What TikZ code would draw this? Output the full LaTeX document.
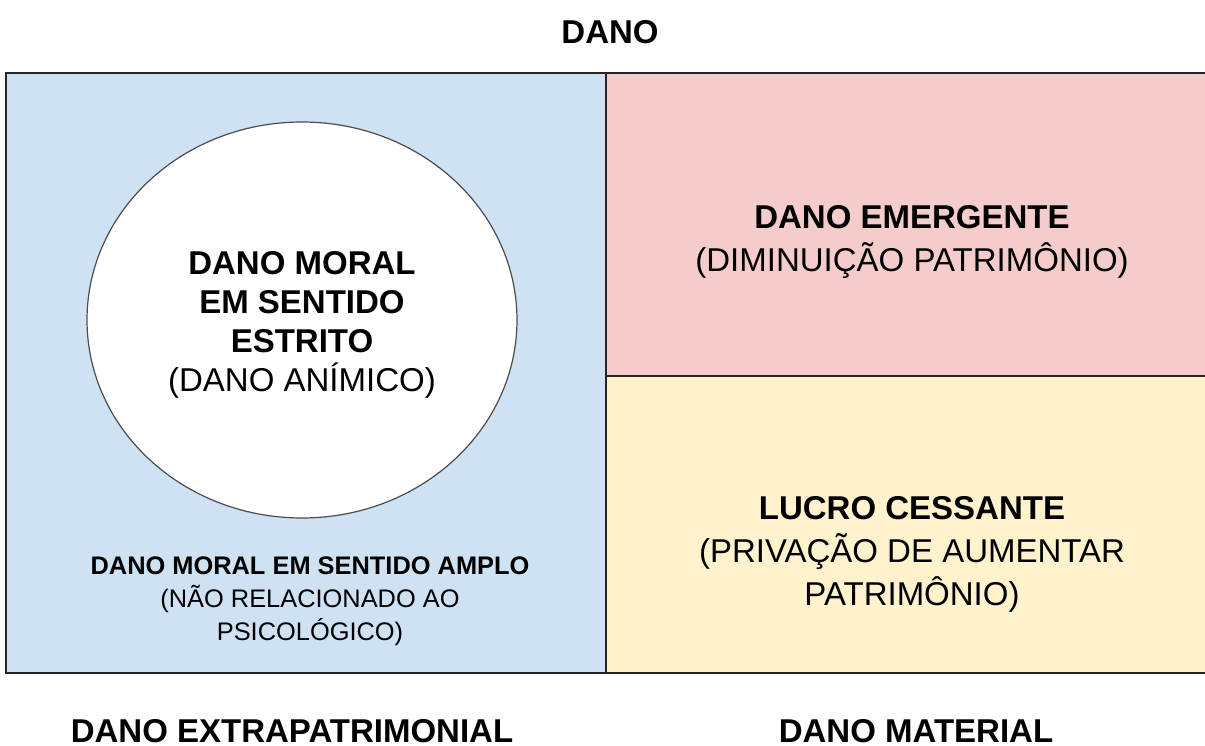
\documentclass[tikz,border=0pt]{standalone}
\usepackage{fontspec}
\setmainfont{Liberation Sans}
\usepackage{tikz}
\usetikzlibrary{shapes.geometric}
\definecolor{moralblue}{HTML}{CFE2F3}
\definecolor{emergpink}{HTML}{F4CCCC}
\definecolor{lucroyellow}{HTML}{FFF2CC}
\tikzstyle{region}=[rectangle, draw=black!85, line width=1.5pt, inner sep=0pt]
\tikzstyle{circ}=[ellipse, draw=black!70, line width=1.2pt, fill=white, inner sep=0pt]
\tikzstyle{big}=[align=center, inner sep=0pt, font=\fontsize{33}{39}\selectfont]
\tikzstyle{small}=[align=center, inner sep=0pt, font=\fontsize{25.4}{33}\selectfont]

\begin{document}
\begin{tikzpicture}[x=1pt, y=-1pt]
		   \useasboundingbox (0,0) rectangle (1205,746);
		   \clip (0,0) rectangle (1205,746);
		   \begin{scope}
			   \node (0) at (306,373)[region, fill=moralblue, minimum width=600pt, minimum height=600pt] {};
			   \node (1) at (910.5,224.5)[region, fill=emergpink, minimum width=609pt, minimum height=303pt] {};
			   \node (2) at (910.5,524.5)[region, fill=lucroyellow, minimum width=609pt, minimum height=297pt] {};
			   \node (3) at (302,320)[circ, minimum width=430pt, minimum height=396pt] {};
		   \end{scope}
		   \begin{scope}
			   \node (t) at (610,32)[big] {\textbf{DANO}};
			   \node (a) at (302,325)[big] {\textbf{DANO MORAL}\\\textbf{EM SENTIDO}\\\textbf{ESTRITO}\\(DANO ANÍMICO)};
			   \node (b) at (310,601)[small] {\textbf{DANO MORAL EM SENTIDO AMPLO}\\(NÃO RELACIONADO AO\\PSICOLÓGICO)};
			   \node (c) at (912,242)[big, font=\fontsize{33}{43}\selectfont] {\textbf{DANO EMERGENTE}\\(DIMINUIÇÃO PATRIMÔNIO)};
			   \node (d) at (912,554)[big, font=\fontsize{33}{43}\selectfont] {\textbf{LUCRO CESSANTE}\\(PRIVAÇÃO DE AUMENTAR\\PATRIMÔNIO)};
			   \node (e) at (292,731)[big] {\textbf{DANO EXTRAPATRIMONIAL}};
			   \node (f) at (916,731)[big] {\textbf{DANO MATERIAL}};
		   \end{scope}
	   \end{tikzpicture}
\end{document}
